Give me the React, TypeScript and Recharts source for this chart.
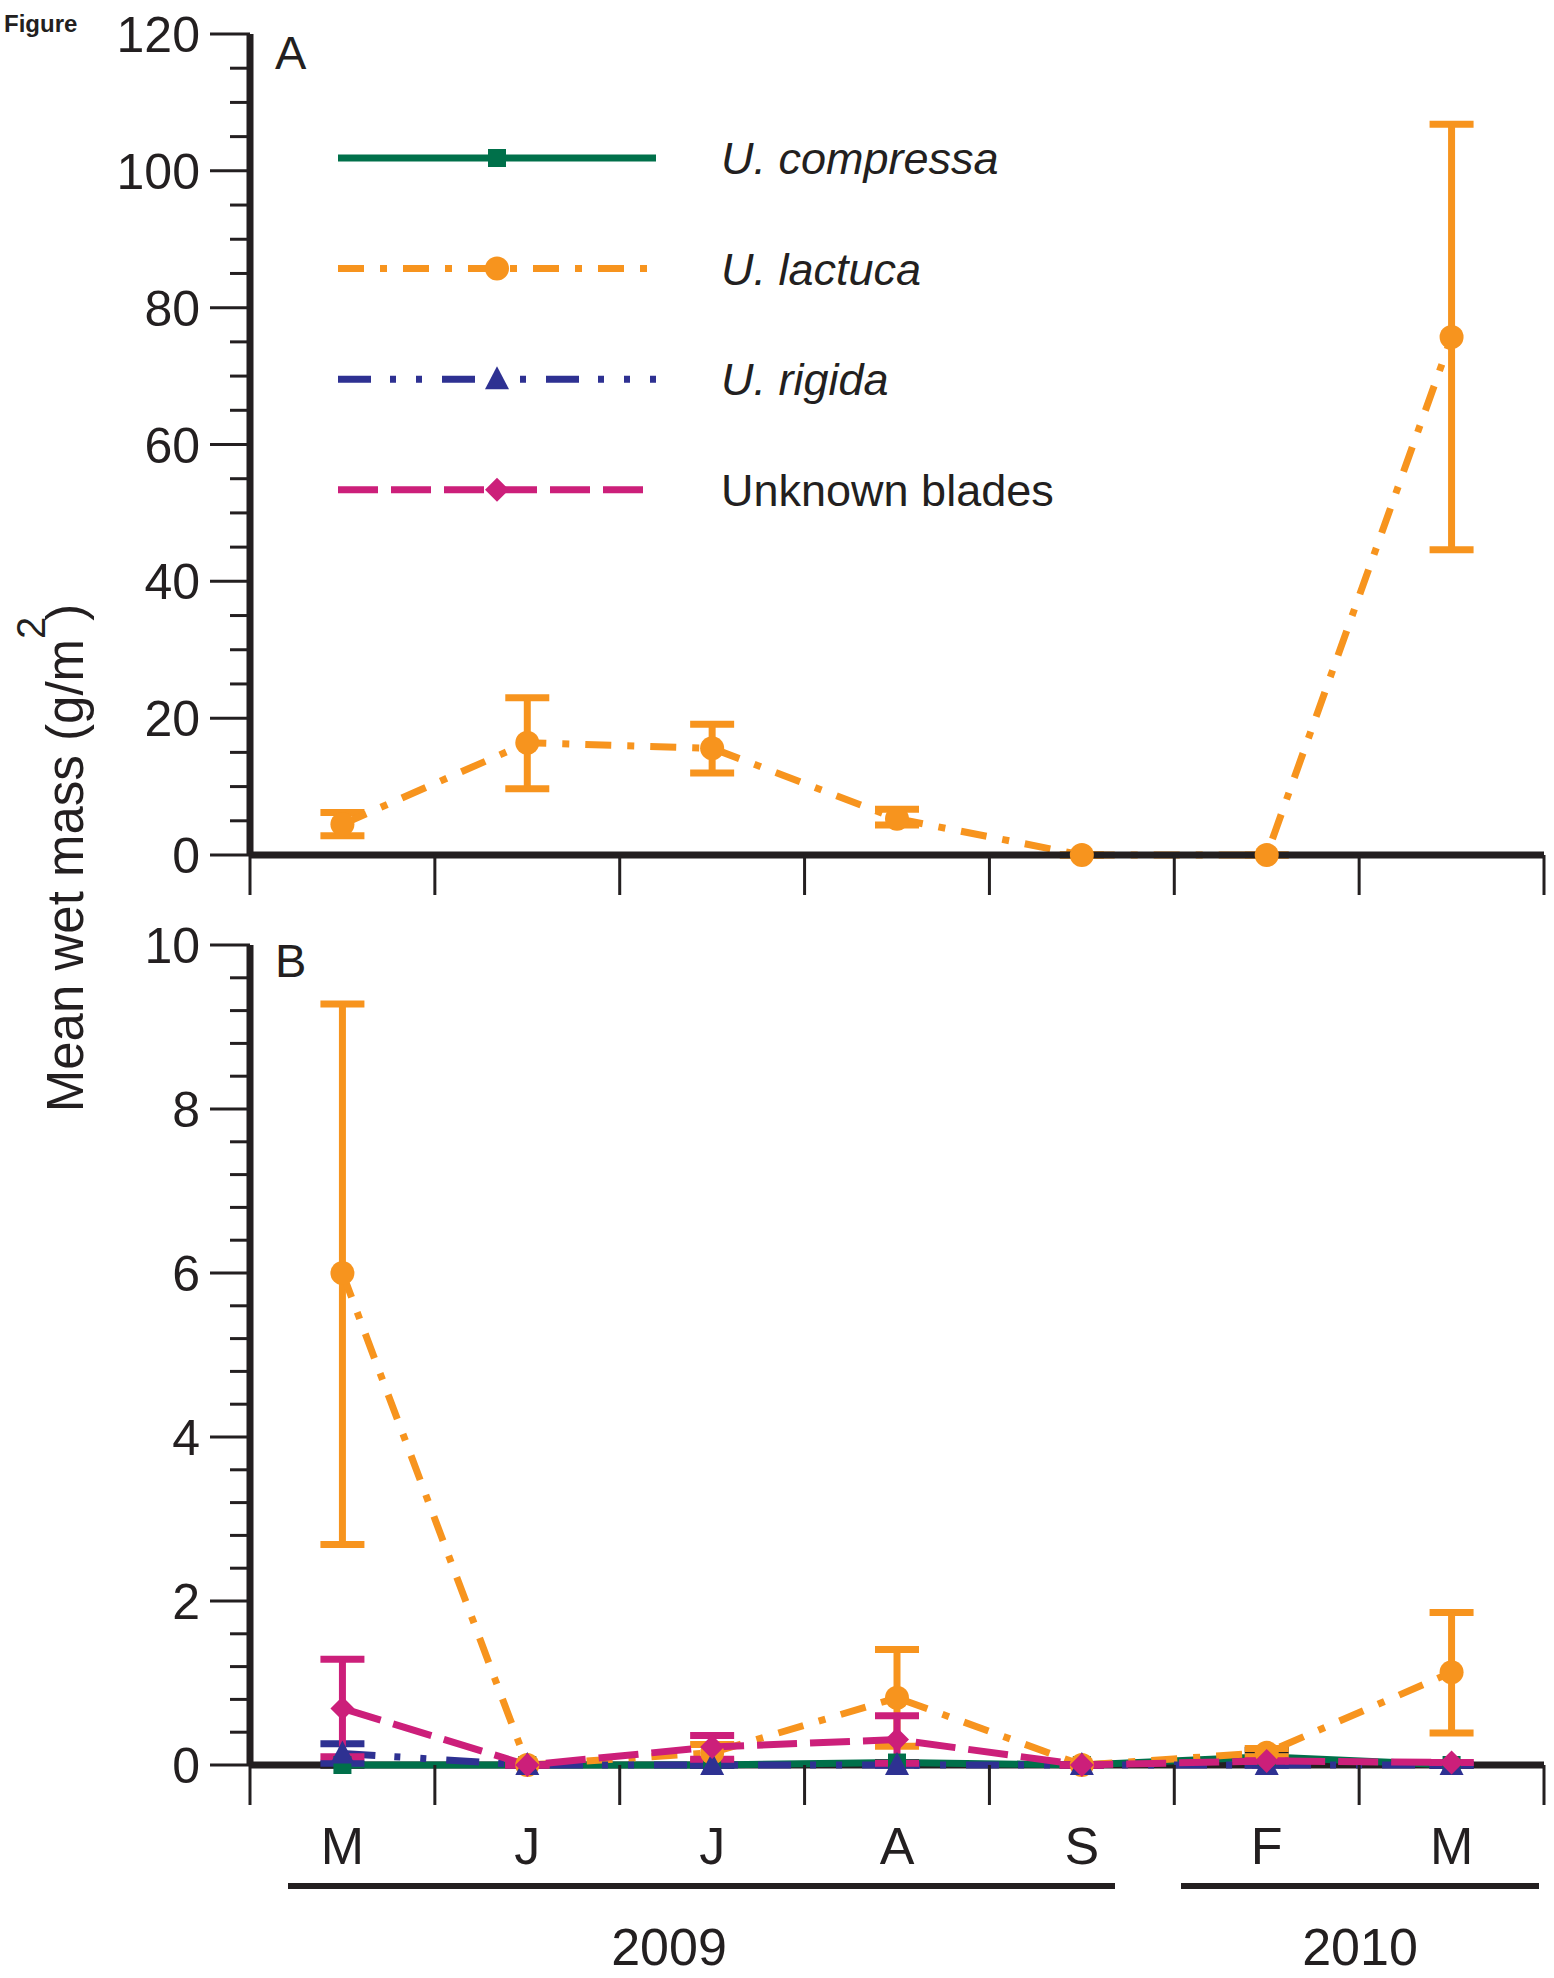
import React from 'react';
import { LineChart, Line, XAxis, YAxis, ErrorBar, Legend } from 'recharts';

const INK = '#231F20';
const GREEN = '#00704A';
const ORANGE = '#F7941E';
const BLUE = '#2E3192';
const MAGENTA = '#CC1F7A';
const FONT = '"Liberation Sans", Arial, Helvetica, sans-serif';

// sampling months, May 2009 .. Mar 2010
const months = ['M', 'J', 'J', 'A', 'S', 'F', 'M'];

// panel A: U. lactuca (g/m2)
const lactucaA = [4.5, 16.4, 15.6, 5.3, 0, 0, 75.7];
const lactucaALow = [2.8, 9.7, 12.0, 4.4, 0, 0, 44.6];
const lactucaAHigh = [6.2, 23.0, 19.1, 6.7, 0, 0, 106.8];

// panel B: all four groups, zoomed scale
const compressaB = [0, 0, 0, 0.03, 0, 0.1, 0];
const compressaLow = [0, 0, 0, 0.03, 0, 0.02, 0];
const compressaHigh = [0, 0, 0, 0.03, 0, 0.18, 0];

const lactucaB = [6.0, 0, 0.15, 0.82, 0, 0.15, 1.13];
const lactucaBLow = [2.69, 0, 0.05, 0.23, 0, 0.1, 0.39];
const lactucaBHigh = [9.28, 0, 0.25, 1.41, 0, 0.2, 1.86];

const rigidaB = [0.14, 0, 0, 0, 0, 0, 0];
const rigidaLow = [0.02, 0, 0, 0, 0, 0, 0];
const rigidaHigh = [0.26, 0, 0, 0, 0, 0, 0];

const unknownB = [0.69, 0, 0.22, 0.31, 0, 0.05, 0.03];
const unknownLow = [0.1, 0, 0.07, 0.02, 0, 0.05, 0.03];
const unknownHigh = [1.29, 0, 0.36, 0.6, 0, 0.05, 0.03];

const xTicksA = [0, 1, 2, 3, 4, 5, 6, 7];
const xTicksB = [0, 0.5, 1, 1.5, 2, 2.5, 3, 3.5, 4, 4.5, 5, 5.5, 6, 6.5, 7];

const yTicksA = [0, 5, 10, 15, 20, 25, 30, 35, 40, 45, 50, 55, 60, 65, 70, 75, 80, 85, 90, 95, 100, 105, 110, 115, 120];
const yMajorA = [0, 20, 40, 60, 80, 100, 120];
const yTicksB = [0, 0.4, 0.8, 1.2, 1.6, 2, 2.4, 2.8, 3.2, 3.6, 4, 4.4, 4.8, 5.2, 5.6, 6, 6.4, 6.8, 7.2, 7.6, 8, 8.4, 8.8, 9.2, 9.6, 10];
const yMajorB = [0, 2, 4, 6, 8, 10];

const legendItems = [
  { name: 'U. compressa', color: GREEN, dash: undefined, marker: 'square', italic: true },
  { name: 'U. lactuca', color: ORANGE, dash: '26 16 7 16', marker: 'circle', italic: true },
  { name: 'U. rigida', color: BLUE, dash: '33 19 6 20 6 20', marker: 'triangle', italic: true },
  { name: 'Unknown blades', color: MAGENTA, dash: '40 13', marker: 'diamond', italic: false },
];

const err = (v: number[], lo: number[], hi: number[], i: number) => [v[i] - lo[i], hi[i] - v[i]];

const dataA = months.map((m, i) => ({
  x: i + 0.5,
  lactuca: lactucaA[i],
  lactucaErr: err(lactucaA, lactucaALow, lactucaAHigh, i),
}));

const dataB = months.map((m, i) => ({
  x: i + 0.5,
  compressa: compressaB[i],
  compressaErr: err(compressaB, compressaLow, compressaHigh, i),
  lactuca: lactucaB[i],
  lactucaErr: err(lactucaB, lactucaBLow, lactucaBHigh, i),
  rigida: rigidaB[i],
  rigidaErr: err(rigidaB, rigidaLow, rigidaHigh, i),
  unknown: unknownB[i],
  unknownErr: err(unknownB, unknownLow, unknownHigh, i),
}));

const Marker = ({ kind, cx, cy, color }: any) => {
  if (cx == null || cy == null) return null;
  switch (kind) {
    case 'square':
      return <rect x={cx - 9} y={cy - 9} width={18} height={18} fill={color} />;
    case 'circle':
      return <circle cx={cx} cy={cy} r={12} fill={color} />;
    case 'triangle':
      return <polygon points={`${cx},${cy - 13} ${cx + 12},${cy + 10} ${cx - 12},${cy + 10}`} fill={color} />;
    default:
      return <polygon points={`${cx},${cy - 12} ${cx + 12},${cy} ${cx},${cy + 12} ${cx - 12},${cy}`} fill={color} />;
  }
};

const dotOf = (kind: string, color: string) => (props: any) => (
  <Marker key={`${kind}-${props.index}`} kind={kind} cx={props.cx} cy={props.cy} color={color} />
);

const YTick = ({ x, y, payload, major }: any) => {
  const isMajor = major.includes(payload.value);
  const len = isMajor ? 40 : 20;
  return (
    <g>
      <line x1={x - len} x2={x} y1={y} y2={y} stroke={INK} strokeWidth={3} />
      {isMajor && (
        <text x={x - 50} y={y} dy={18} textAnchor="end" fontSize={50} fontFamily={FONT} fill={INK}>
          {payload.value}
        </text>
      )}
    </g>
  );
};

const XTick = ({ x, y, payload }: any) => {
  const v = payload.value;
  if (Number.isInteger(v)) {
    return <line x1={x} x2={x} y1={y} y2={y + 40} stroke={INK} strokeWidth={3} />;
  }
  return (
    <text x={x} y={y + 99} textAnchor="middle" fontSize={52} fontFamily={FONT} fill={INK}>
      {months[Math.floor(v)]}
    </text>
  );
};

const LegendBox = () => (
  <svg width={800} height={450}>
    {legendItems.map((it, i) => {
      const cy = 58 + i * 110.6;
      return (
        <g key={it.name}>
          <line x1={8} x2={326} y1={cy} y2={cy} stroke={it.color} strokeWidth={7} strokeDasharray={it.dash} />
          <Marker kind={it.marker} cx={167} cy={cy} color={it.color} />
          <text x={391} y={cy + 16} fontSize={45} fontFamily={FONT} fontStyle={it.italic ? 'italic' : 'normal'} fill={INK}>
            {it.name}
          </text>
        </g>
      );
    })}
  </svg>
);

const axisLine = { stroke: INK, strokeWidth: 7 };
const LW = 7;

const App = () => {
  return (
    <div style={{ position: 'absolute', left: 0, top: 0, width: 1554, height: 1978, background: '#fff' }}>
      {/* panel A */}
      <div style={{ position: 'absolute', left: 0, top: 0 }}>
        <LineChart width={1554} height={905} data={dataA} margin={{ top: 34, right: 10, bottom: 0, left: 0 }}>
          <XAxis
            type="number"
            dataKey="x"
            domain={[0, 7]}
            ticks={xTicksA}
            interval={0}
            height={50}
            tickSize={0}
            tickMargin={0}
            tickLine={false}
            axisLine={axisLine}
            tick={(p: any) => <XTick {...p} />}
          />
          <YAxis
            type="number"
            domain={[0, 120]}
            ticks={yTicksA}
            interval={0}
            width={250}
            tickSize={0}
            tickMargin={0}
            tickLine={false}
            axisLine={axisLine}
            tick={(p: any) => <YTick {...p} major={yMajorA} />}
          />
          <Legend
            layout="vertical"
            align="center"
            verticalAlign="middle"
            wrapperStyle={{ position: 'absolute', left: 330, top: 100, width: 800, height: 450 }}
            content={() => <LegendBox />}
          />
          <Line
            type="linear"
            dataKey="lactuca"
            stroke={ORANGE}
            strokeWidth={LW}
            strokeDasharray="26 16 7 16"
            dot={dotOf('circle', ORANGE)}
            activeDot={false}
            isAnimationActive={false}
          >
            <ErrorBar dataKey="lactucaErr" direction="y" width={22} stroke={ORANGE} strokeWidth={LW} isAnimationActive={false} />
          </Line>
        </LineChart>
      </div>

      {/* panel B */}
      <div style={{ position: 'absolute', left: 0, top: 900 }}>
        <LineChart width={1554} height={1015} data={dataB} margin={{ top: 45, right: 10, bottom: 0, left: 0 }}>
          <XAxis
            type="number"
            dataKey="x"
            domain={[0, 7]}
            ticks={xTicksB}
            interval={0}
            height={150}
            tickSize={0}
            tickMargin={0}
            tickLine={false}
            axisLine={axisLine}
            tick={(p: any) => <XTick {...p} />}
          />
          <YAxis
            type="number"
            domain={[0, 10]}
            ticks={yTicksB}
            interval={0}
            width={250}
            tickSize={0}
            tickMargin={0}
            tickLine={false}
            axisLine={axisLine}
            tick={(p: any) => <YTick {...p} major={yMajorB} />}
          />
          <Line
            type="linear"
            dataKey="compressa"
            stroke={GREEN}
            strokeWidth={LW}
            dot={dotOf('square', GREEN)}
            activeDot={false}
            isAnimationActive={false}
            zIndex={600}
          >
            <ErrorBar dataKey="compressaErr" direction="y" width={22} stroke={INK} strokeWidth={LW} isAnimationActive={false} zIndex={600} />
          </Line>
          <Line
            type="linear"
            dataKey="lactuca"
            stroke={ORANGE}
            strokeWidth={LW}
            strokeDasharray="26 16 7 16"
            dot={dotOf('circle', ORANGE)}
            activeDot={false}
            isAnimationActive={false}
            zIndex={600}
          >
            <ErrorBar dataKey="lactucaErr" direction="y" width={22} stroke={ORANGE} strokeWidth={LW} isAnimationActive={false} zIndex={600} />
          </Line>
          <Line
            type="linear"
            dataKey="rigida"
            stroke={BLUE}
            strokeWidth={LW}
            strokeDasharray="33 19 6 20 6 20"
            dot={dotOf('triangle', BLUE)}
            activeDot={false}
            isAnimationActive={false}
            zIndex={600}
          >
            <ErrorBar dataKey="rigidaErr" direction="y" width={22} stroke={BLUE} strokeWidth={LW} isAnimationActive={false} zIndex={600} />
          </Line>
          <Line
            type="linear"
            dataKey="unknown"
            stroke={MAGENTA}
            strokeWidth={LW}
            strokeDasharray="40 13"
            dot={dotOf('diamond', MAGENTA)}
            activeDot={false}
            isAnimationActive={false}
            zIndex={600}
          >
            <ErrorBar dataKey="unknownErr" direction="y" width={22} stroke={MAGENTA} strokeWidth={LW} isAnimationActive={false} zIndex={600} />
          </Line>
        </LineChart>
      </div>

      {/* labels, axis title and year brackets */}
      <svg width={1554} height={1978} style={{ position: 'absolute', left: 0, top: 0, pointerEvents: 'none' }}>
        <text x={4} y={32} fontSize={24} fontWeight="bold" fontFamily={FONT} fill={INK}>Figure</text>
        <text x={275} y={69} fontSize={47} fontFamily={FONT} fill={INK}>A</text>
        <text x={275} y={977} fontSize={47} fontFamily={FONT} fill={INK}>B</text>
        <text
          transform="translate(83, 858) rotate(-90)"
          textAnchor="middle"
          fontSize={51}
          fontFamily={FONT}
          fill={INK}
        >
          Mean wet mass (g/m<tspan dy={-38} fontSize={40}>2</tspan>
          <tspan dy={38} dx={-4}>)</tspan>
        </text>
        <line x1={288} x2={1115} y1={1886} y2={1886} stroke={INK} strokeWidth={6} />
        <line x1={1181} x2={1539} y1={1886} y2={1886} stroke={INK} strokeWidth={6} />
        <text x={669} y={1965} textAnchor="middle" fontSize={52} fontFamily={FONT} fill={INK}>2009</text>
        <text x={1360} y={1965} textAnchor="middle" fontSize={52} fontFamily={FONT} fill={INK}>2010</text>
      </svg>
    </div>
  );
};

export default App;
